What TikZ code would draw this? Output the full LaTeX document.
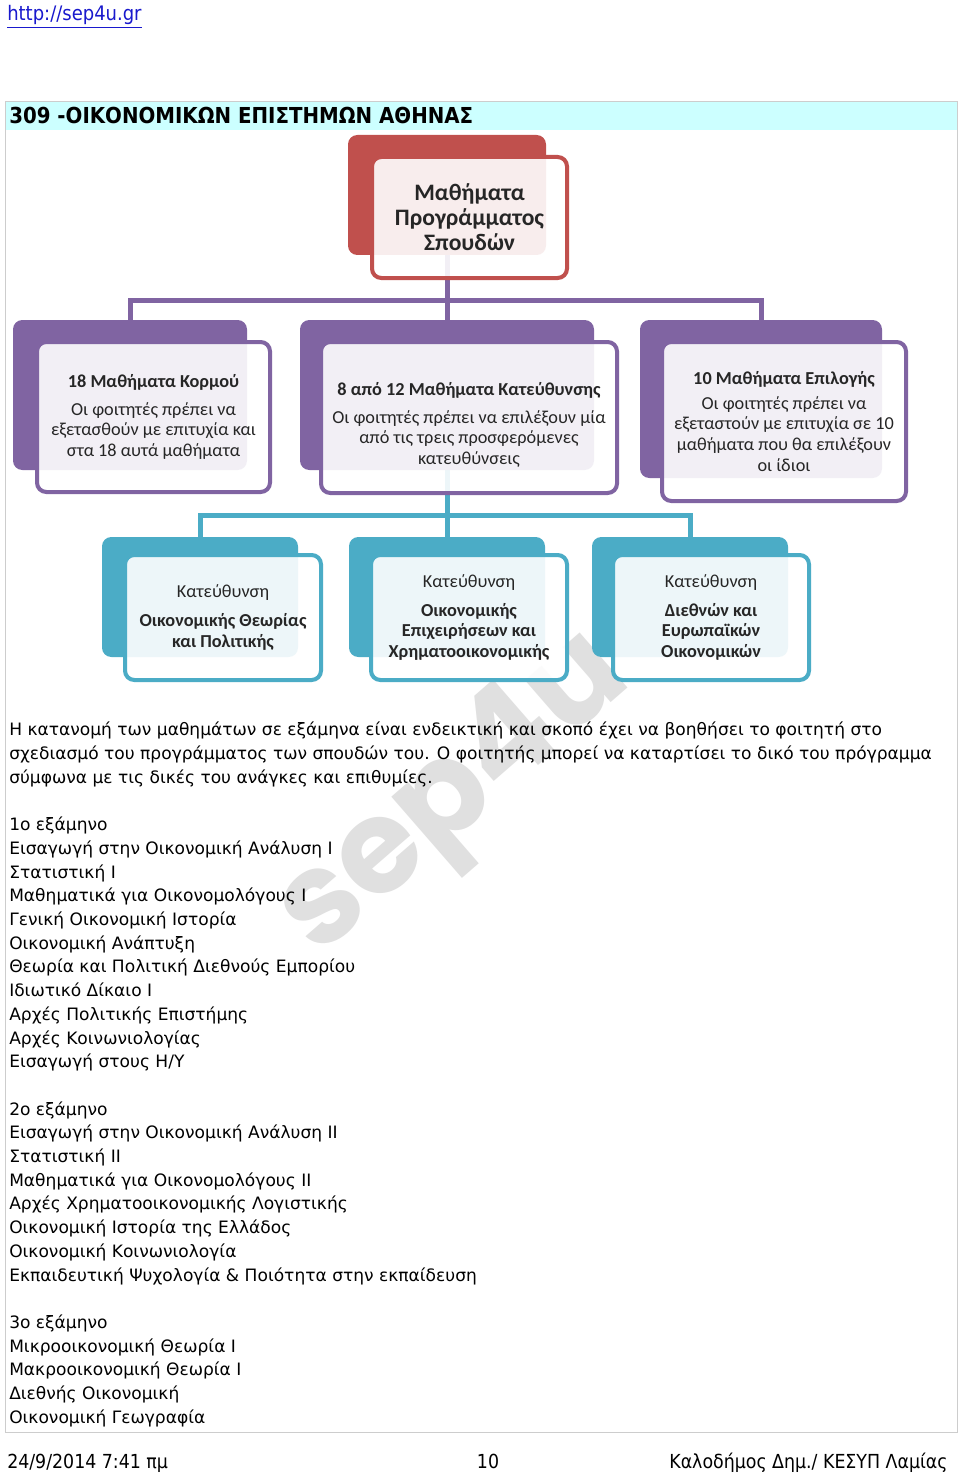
\documentclass[tikz,border=0pt]{standalone}
\usepackage{fontspec}
\setmainfont{DejaVu Sans}
\newfontfamily\boxfont{Carlito}
\newfontfamily\condfont{DejaVu Sans Condensed}
\newfontfamily\markfont{Poppins}
\usepackage{tikz}
\usetikzlibrary{positioning,backgrounds}
\usepackage{xcolor}
\definecolor{redbox}{RGB}{192,80,77}
\definecolor{purplebox}{RGB}{128,100,162}
\definecolor{tealbox}{RGB}{75,172,198}
\definecolor{headcyan}{RGB}{204,255,255}
\definecolor{linkblue}{RGB}{25,25,205}
\definecolor{framegray}{RGB}{205,205,205}

\begin{document}
\begin{tikzpicture}[
    x=0.75pt, y=-0.75pt,
    backbox/.style={rectangle, rounded corners=7pt, inner sep=0pt, outer sep=0pt},
    frontbox/.style={rectangle, rounded corners=7pt, line width=3pt, fill=white, fill opacity=0.9, text opacity=1, text=black!85, align=center, inner sep=0pt, outer sep=0pt, font=\boxfont\fontsize{13.7pt}{15.4pt}\selectfont},
    bodytext/.style={anchor=base west, align=left, inner sep=0pt, font=\fontsize{12.8pt}{17.78pt}\selectfont},
    pagetext/.style={inner sep=0pt, font=\condfont\fontsize{14.5pt}{17pt}\selectfont},
    purpleline/.style={draw=purplebox, line width=3.75pt},
    tealline/.style={draw=tealbox, line width=3.75pt}
]
    \useasboundingbox (0,0) rectangle (960,1473);

    % page head
    \node [pagetext, anchor=base west, text=linkblue, font=\condfont\fontsize{15pt}{17pt}\selectfont] (link) at (7,21) {\underline{http://sep4u.gr}};
    \node [anchor=base west, inner sep=0pt, font=\condfont\bfseries\fontsize{16.5pt}{18pt}\selectfont] (title) at (9,124) {309 -ΟΙΚΟΝΟΜΙΚΩΝ ΕΠΙΣΤΗΜΩΝ ΑΘΗΝΑΣ};

    % chart
    \node [backbox, fill=redbox, minimum width=148.5pt, minimum height=90pt] (topb) at (447,195) {};
    \node [frontbox, draw=redbox, minimum width=146.25pt, minimum height=90.75pt, below right=16.5pt and 18pt of topb.north west, font=\boxfont\bfseries\fontsize{17.7pt}{18.75pt}\selectfont] (top) {Μαθήματα\\Προγράμματος\\Σπουδών};

    \node [backbox, fill=purplebox, minimum width=175.5pt, minimum height=112.5pt] (kormosb) at (130,395) {};
    \node [frontbox, draw=purplebox, minimum width=174.75pt, minimum height=112.5pt, below right=16.5pt and 18pt of kormosb.north west] (kormos) {\textbf{18 Μαθήματα Κορμού}\\[5pt]Οι φοιτητές πρέπει να\\εξετασθούν με επιτυχία και\\στα 18 αυτά μαθήματα};

    \node [backbox, fill=purplebox, minimum width=220.5pt, minimum height=112.5pt] (kateythb) at (447,395) {};
    \node [frontbox, draw=purplebox, minimum width=222pt, minimum height=113.25pt, below right=16.5pt and 15.75pt of kateythb.north west] (kateyth) {\rule{0pt}{21pt}\textbf{8 από 12 Μαθήματα Κατεύθυνσης}\\[5pt]Οι φοιτητές πρέπει να επιλέξουν μία\\από τις τρεις προσφερόμενες\\κατευθύνσεις};

    \node [backbox, fill=purplebox, minimum width=181.5pt, minimum height=118.5pt] (epilb) at (761,399) {};
    \node [frontbox, draw=purplebox, minimum width=183pt, minimum height=119.25pt, below right=16.5pt and 16.5pt of epilb.north west] (epil) {\textbf{10 Μαθήματα Επιλογής}\\[3pt]Οι φοιτητές πρέπει να\\εξεταστούν με επιτυχία σε 10\\μαθήματα που θα επιλέξουν\\οι ίδιοι};

    \node [backbox, fill=tealbox, minimum width=147pt, minimum height=90pt] (theorb) at (200,597) {};
    \node [frontbox, draw=tealbox, minimum width=147pt, minimum height=93.75pt, below right=13.5pt and 17.25pt of theorb.north west] (theor) {Κατεύθυνση\\[6pt]\textbf{Οικονομικής Θεωρίας}\\\textbf{και Πολιτικής}};

    \node [backbox, fill=tealbox, minimum width=147pt, minimum height=90pt] (epixb) at (447,597) {};
    \node [frontbox, draw=tealbox, minimum width=147pt, minimum height=93.75pt, below right=13.5pt and 16.5pt of epixb.north west] (epix) {Κατεύθυνση\\[6pt]\textbf{Οικονομικής}\\\textbf{Επιχειρήσεων και}\\\textbf{Χρηματοοικονομικής}};

    \node [backbox, fill=tealbox, minimum width=147pt, minimum height=90pt] (diethb) at (690,597) {};
    \node [frontbox, draw=tealbox, minimum width=147pt, minimum height=93.75pt, below right=13.5pt and 15.75pt of diethb.north west] (dieth) {Κατεύθυνση\\[6pt]\textbf{Διεθνών και}\\\textbf{Ευρωπαϊκών}\\\textbf{Οικονομικών}};

    % text under the chart (anchored at the last line)
    \node [bodytext] (intro) at (9,783.4) {Η κατανομή των μαθημάτων σε εξάμηνα είναι ενδεικτική και σκοπό έχει να βοηθήσει το φοιτητή στο\\σχεδιασμό του προγράμματος των σπουδών του. Ο φοιτητής μπορεί να καταρτίσει το δικό του πρόγραμμα\\σύμφωνα με τις δικές του ανάγκες και επιθυμίες.};
    \node [bodytext] (sem1) at (9,1067.8) {1ο εξάμηνο\\Εισαγωγή στην Οικονομική Ανάλυση I\\Στατιστική I\\Μαθηματικά για Οικονομολόγους I\\Γενική Οικονομική Ιστορία\\Οικονομική Ανάπτυξη\\Θεωρία και Πολιτική Διεθνούς Εμπορίου\\Ιδιωτικό Δίκαιο I\\Αρχές Πολιτικής Επιστήμης\\Αρχές Κοινωνιολογίας\\Εισαγωγή στους Η/Υ};
    \node [bodytext] (sem2) at (9,1281.1) {2ο εξάμηνο\\Εισαγωγή στην Οικονομική Ανάλυση II\\Στατιστική II\\Μαθηματικά για Οικονομολόγους II\\Αρχές Χρηματοοικονομικής Λογιστικής\\Οικονομική Ιστορία της Ελλάδος\\Οικονομική Κοινωνιολογία\\Εκπαιδευτική Ψυχολογία \& Ποιότητα στην εκπαίδευση};
    \node [bodytext] (sem3) at (9,1423.3) {3ο εξάμηνο\\Μικροοικονομική Θεωρία I\\Μακροοικονομική Θεωρία I\\Διεθνής Οικονομική\\Οικονομική Γεωγραφία};

    % page foot
    \node [pagetext, anchor=base west] (date) at (7,1468) {24/9/2014 7:41 πμ};
    \node [pagetext, anchor=base] (pageno) at (488,1468) {10};
    \node [pagetext, anchor=base east] (author) at (948,1468) {Καλοδήμος Δημ./ ΚΕΣΥΠ Λαμίας};

    \begin{pgfonlayer}{background}
        \fill [white] (0,0) rectangle (960,1473);
        \node [rotate=41, anchor=base west, inner sep=0pt, text=black!12, font=\markfont\bfseries\fontsize{98pt}{98pt}\selectfont] (mark) at (318,958) {sep4u};
        \fill [headcyan] (5,101) rectangle (957,130);
        \draw [framegray] (5,101) rectangle (957,1432);

        \draw [purpleline] (topb.south) -- ++(0,45) coordinate (bus1);
        \draw [purpleline] (kormosb.north) |- (bus1) -| (epilb.north);
        \draw [purpleline] (bus1) -- (kateythb.north);
        \draw [tealline] (kateythb.south) -- ++(0,45) coordinate (bus2);
        \draw [tealline] (theorb.north) |- (bus2) -| (diethb.north);
        \draw [tealline] (bus2) -- (epixb.north);
    \end{pgfonlayer}
\end{tikzpicture}
\end{document}
